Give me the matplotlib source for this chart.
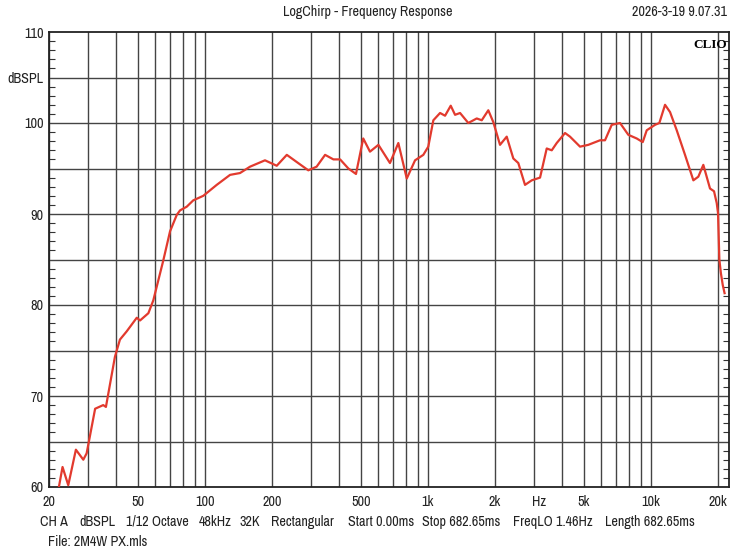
import matplotlib
matplotlib.use('Agg')
import matplotlib.pyplot as plt
from matplotlib import font_manager
from matplotlib.ticker import FixedLocator, NullFormatter

# Данные кривой (частота, Гц / уровень, дБ SPL)
freq = [22.0, 23.0, 24.4, 26.4, 28.5, 29.5, 32.2, 35.0, 36.0, 39.5,
        41.6, 44.6, 49.5, 51.2, 55.8, 58.7, 65.1, 69.8, 74.8, 77.4,
        82.9, 88.7, 98.4, 113, 129.7, 143.7, 159.4, 186, 210, 233,
        262, 291, 317, 346, 377, 404, 440, 476, 513, 550,
        600, 676, 737, 804, 876, 954, 1004, 1058, 1134, 1194,
        1266, 1324, 1394, 1518, 1656, 1744, 1866, 1965, 2106, 2257,
        2416, 2544, 2726, 2922, 3184, 3411, 3593, 3782, 4121, 4338,
        4812, 5240, 5914, 6226, 6674, 7270, 7923, 8638, 9192, 9580,
        10438, 10912, 11572, 12187, 13058, 14224, 15503, 16320, 17184, 18412,
        19190, 19734, 20000, 20276, 20600, 21000, 21400]
spl = [59.6, 62.2, 60.2, 64.1, 63.0, 63.7, 68.6, 69.0, 68.8, 74.3,
       76.2, 77.1, 78.6, 78.3, 79.1, 80.5, 84.9, 88.1, 89.9, 90.4,
       90.8, 91.5, 92.0, 93.2, 94.3, 94.5, 95.2, 95.9, 95.3, 96.5,
       95.6, 94.8, 95.2, 96.5, 96.0, 96.0, 95.0, 94.4, 98.3, 96.85,
       97.6, 95.6, 97.8, 93.9, 95.9, 96.5, 97.4, 100.3, 101.1, 100.8,
       101.9, 100.9, 101.1, 100.0, 100.5, 100.3, 101.4, 100.1, 97.6, 98.5,
       96.1, 95.6, 93.2, 93.7, 94.0, 97.2, 97.0, 97.8, 98.9, 98.5,
       97.4, 97.6, 98.1, 98.1, 99.8, 100.0, 98.7, 98.3, 97.9, 99.2,
       99.8, 100.0, 102.0, 101.2, 99.2, 96.5, 93.7, 94.1, 95.4, 92.8,
       92.5, 91.2, 90.1, 85.0, 83.5, 82.2, 81.3]

# Подписи осей
x_tick_pos = [20, 50, 100, 200, 500, 1000, 2000, 3162, 5000, 10000, 20000]
x_tick_lab = ['20', '50', '100', '200', '500', '1k', '2k', 'Hz', '5k', '10k', '20k']
y_tick_pos = [60, 65, 70, 75, 80, 85, 90, 95, 100, 105, 110]
y_tick_lab = ['60', '', '70', '', '80', '', '90', '', '100', 'dBSPL', '110']

grid_freqs = [d * m for d in (10, 100, 1000, 10000) for m in range(1, 10)]
grid_freqs = [f for f in grid_freqs if 20 <= f <= 20000]

title = 'LogChirp - Frequency Response'
stamp = '2026-3-19 9.07.31'
info_items = ['CH A', 'dBSPL', '1/12 Octave', '48kHz', '32K', 'Rectangular',
              'Start 0.00ms', 'Stop 682.65ms', 'FreqLO 1.46Hz', 'Length 682.65ms']
info_x = [40, 79, 126, 199, 239, 271, 348, 422, 513, 605]
file_info = 'File: 2M4W PX.mls'


# Ищем узкий шрифт (как Arial Narrow в оригинале)
def pick_font():
    cands = []
    for f in font_manager.fontManager.ttflist:
        if f.style != 'normal' or f.weight not in (400, 'normal', 'regular'):
            continue
        if 'narrow' in f.name.lower() or f.stretch in ('condensed', 'semi-condensed'):
            cands.append(f)
    cands.sort(key=lambda f: (0 if 'Liberation' in f.name else 1, f.name))
    if cands:
        return font_manager.FontProperties(fname=cands[0].fname), 10.2
    return font_manager.FontProperties(family='Liberation Sans'), 9.0


fp, fs = pick_font()
fp.set_size(fs)

fig = plt.figure(figsize=(7.30, 5.48), dpi=100)
ax = fig.add_axes([49 / 730, 1 - 487 / 548, 680 / 730, 455 / 548])

# Сетка
for f in grid_freqs:
    ax.axvline(f, color='#444444', lw=1.0, zorder=1)
for v in y_tick_pos[1:-1]:
    ax.axhline(v, color='#444444', lw=1.0, zorder=1)

ax.plot(freq, spl, color='#e23a2e', lw=1.6, zorder=3)

ax.set_xscale('log')
ax.set_xlim(20, 22400)
ax.set_ylim(60, 110)

ax.xaxis.set_major_locator(FixedLocator(x_tick_pos))
ax.set_xticklabels(x_tick_lab, fontproperties=fp, color='#222222')
ax.xaxis.set_minor_locator(FixedLocator([]))
ax.xaxis.set_minor_formatter(NullFormatter())
ax.yaxis.set_major_locator(FixedLocator(y_tick_pos))
ax.set_yticklabels(y_tick_lab, fontproperties=fp, color='#222222')
ax.yaxis.set_minor_locator(FixedLocator(list(range(60, 111))))

ax.tick_params(axis='x', which='major', length=0, pad=6)
ax.tick_params(axis='y', which='major', length=0, pad=4)
ax.tick_params(axis='y', which='minor', direction='in', length=4, width=0.8,
               left=True, right=True, color='#333333')

for s in ax.spines.values():
    s.set_color('#222222')
    s.set_linewidth(1.3)

ax.text(0.997, 0.985, 'CLIO', transform=ax.transAxes, ha='right', va='top',
        fontsize=9.5, fontweight='bold', family=['Liberation Serif', 'DejaVu Serif'])

fig.text(368 / 730, 1 - 12 / 548, title, ha='center', va='center',
         fontproperties=fp, color='#222222')
fig.text(727 / 730, 1 - 12 / 548, stamp, ha='right', va='center',
         fontproperties=fp, color='#222222')
for item, xp in zip(info_items, info_x):
    fig.text(xp / 730, 1 - 522 / 548, item, ha='left', va='center',
             fontproperties=fp, color='#222222')
fig.text(48 / 730, 1 - 542 / 548, file_info, ha='left', va='center',
         fontproperties=fp, color='#222222')

fig.savefig('out.png', dpi=100)
